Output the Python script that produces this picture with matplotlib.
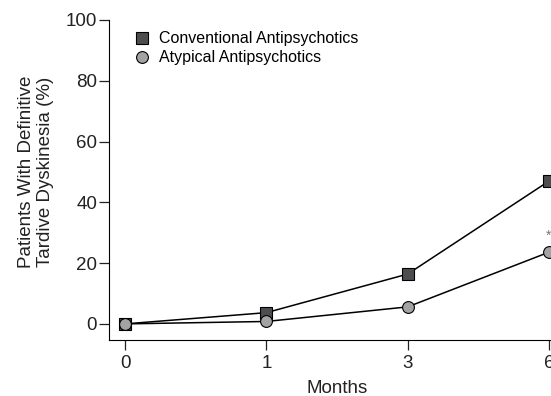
import matplotlib
matplotlib.use("Agg")
import matplotlib.pyplot as plt
from matplotlib.lines import Line2D

# data
months = ["0", "1", "3", "6"]
conventional = [0, 3.7, 16.4, 47.0]
atypical = [0, 0.8, 5.6, 23.6]

plt.rcParams['font.family'] = ['Liberation Sans', 'DejaVu Sans']

fig = plt.figure(figsize=(5.51, 3.96), dpi=100)
ax = fig.add_axes([109/551, 56/396, 442/551, 320/396])

x = list(range(len(months)))

# lines + markers
ax.plot(x, conventional, color="black", lw=1.1, marker="s", markersize=8,
        markerfacecolor="#4d4d4f", markeredgecolor="black", markeredgewidth=0.8,
        clip_on=False, zorder=3)
ax.plot(x, atypical, color="black", lw=1.1, marker="o", markersize=8.5,
        markerfacecolor="#a3a3a5", markeredgecolor="black", markeredgewidth=0.8,
        clip_on=False, zorder=4)

# significance mark
ax.text(x[-1], atypical[-1] + 3, "*", ha="center", va="bottom", fontsize=10, color="#777777")

# axes styling
ax.set_xlim(-16/141, 3 + 2/141)
ax.set_ylim(-5.3, 100)
ax.set_xticks(x)
ax.set_xticklabels(months)
ax.set_yticks([0, 20, 40, 60, 80, 100])
ax.spines["top"].set_visible(False)
ax.spines["right"].set_visible(False)
ax.tick_params(labelsize=13.5, length=7, width=0.9, colors="#222222")
ax.tick_params(axis="y", pad=1.5)
ax.tick_params(axis="x", pad=4)

# x label sits at the very bottom of the figure
fig.text(337.5/551, 3/396, "Months", ha="center", va="baseline", fontsize=13.5, color="#222222")
ax.set_ylabel("Patients With Definitive\nTardive Dyskinesia (%)", fontsize=13.5, color="#222222",
              linespacing=1.2)
ax.yaxis.set_label_coords(-0.124, 0.525)

# legend: markers only, no line
handles = [
    Line2D([], [], ls="none", marker="s", markersize=8, markerfacecolor="#4d4d4f",
           markeredgecolor="black", markeredgewidth=0.8),
    Line2D([], [], ls="none", marker="o", markersize=8.5, markerfacecolor="#a3a3a5",
           markeredgecolor="black", markeredgewidth=0.8),
]
ax.legend(handles, ["Conventional Antipsychotics", "Atypical Antipsychotics"],
          loc="upper left", bbox_to_anchor=(0.06, 0.965), frameon=False, fontsize=11.5,
          handlelength=0.8, handletextpad=0.7, labelspacing=0.26, borderaxespad=0,
          borderpad=0)

fig.savefig("out.png", dpi=100)
